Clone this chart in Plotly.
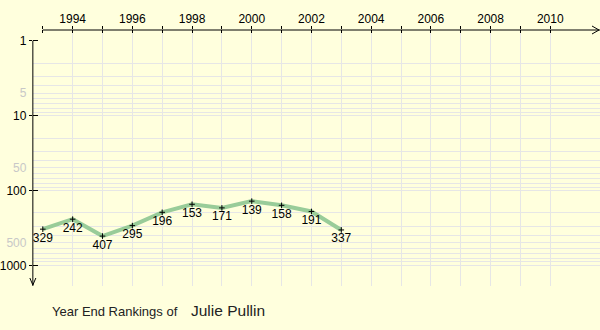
import plotly.graph_objects as go
import math

years = [1993, 1994, 1995, 1996, 1997, 1998, 1999, 2000, 2001, 2002, 2003]
rankings = [329, 242, 407, 295, 196, 153, 171, 139, 158, 191, 337]
tick_years = list(range(1993, 2011))
label_years = list(range(1994, 2011, 2))
grid_years = list(range(1994, 2011))
ymajor = [1, 10, 100, 1000]
ylabel_vals = [1, 5, 10, 50, 100, 500, 1000]
ygrid_vals = [m * d for d in (1, 10, 100) for m in range(2, 10)] + [10, 100, 1000]
title_text = "Year End Rankings of"
player = "Julie Pullin"

W, H = 600, 330
BG = "#FFFFDD"
GRID = "#E6E6E6"
FONT = "Liberation Sans, Arial, sans-serif"

xr = [1992.6667, 2011.6667]
ylog_top, ylog_bot = -0.1429, 3.2763
yr = [ylog_bot, ylog_top]
ybot_val = 10 ** ylog_bot
xdom = [30 / W, 1]
ydom = [1 - 286 / H, 1 - 30 / H]

fig = go.Figure()
fig.add_trace(go.Scatter(
    x=years, y=rankings, mode="lines+markers+text",
    line=dict(color="#99CC99", width=4),
    marker=dict(symbol="cross-thin", size=4, color="black",
                line=dict(color="black", width=1)),
    text=[str(v) for v in rankings], textposition="bottom center",
    textfont=dict(family=FONT, size=12, color="black"),
    hoverinfo="skip", showlegend=False,
))
# empty traces so the overlay axes get drawn
for xa, ya in [("x2", "y"), ("x3", "y"), ("x", "y2"), ("x", "y3"), ("x", "y4")]:
    fig.add_trace(go.Scatter(x=[], y=[], xaxis=xa, yaxis=ya, mode="markers",
                             hoverinfo="skip", showlegend=False))

ticktext_x = [str(y) if y in label_years else "" for y in tick_years]

def ylab(v):
    if v in ymajor:
        return str(v)
    return '<span style="color:#C8C8C8">%d</span>' % v

fig.update_layout(
    width=W, height=H, autosize=False,
    margin=dict(l=0, r=0, t=0, b=0),
    paper_bgcolor=BG, plot_bgcolor=BG,
    showlegend=False,
    xaxis=dict(domain=xdom, range=xr, anchor="y", side="top",
               tickmode="array", tickvals=grid_years, showticklabels=False,
               ticks="", showgrid=True, gridcolor=GRID, gridwidth=1,
               zeroline=False, showline=False),
    xaxis2=dict(overlaying="x", anchor="y", side="top", range=xr,
                tickmode="array", tickvals=tick_years, ticktext=ticktext_x,
                ticks="outside", ticklen=3, tickcolor="black", tickwidth=1,
                ticklabelstandoff=-2,
                tickfont=dict(family=FONT, size=12, color="black"),
                showgrid=False, zeroline=False, showline=False),
    xaxis3=dict(overlaying="x", anchor="y", side="top", range=xr,
                tickmode="array", tickvals=tick_years, showticklabels=False,
                ticks="inside", ticklen=3, tickcolor="black", tickwidth=1,
                showgrid=False, zeroline=False, showline=False),
    yaxis=dict(domain=ydom, type="log", range=yr, anchor="x",
               tickmode="array", tickvals=ygrid_vals, showticklabels=False,
               ticks="", showgrid=True, gridcolor=GRID, gridwidth=1,
               zeroline=False, showline=False),
    yaxis2=dict(overlaying="y", anchor="x", side="left", type="log", range=yr,
                tickmode="array", tickvals=ylabel_vals,
                ticktext=[ylab(v) for v in ylabel_vals],
                ticks="outside", ticklen=3, tickcolor="rgba(0,0,0,0)",
                tickfont=dict(family=FONT, size=12, color="black"),
                showgrid=False, zeroline=False, showline=False),
    yaxis3=dict(overlaying="y", anchor="x", side="left", type="log", range=yr,
                tickmode="array", tickvals=ymajor, showticklabels=False,
                ticks="outside", ticklen=3, tickcolor="black", tickwidth=1,
                showgrid=False, zeroline=False, showline=False),
    yaxis4=dict(overlaying="y", anchor="x", side="left", type="log", range=yr,
                tickmode="array", tickvals=ymajor, showticklabels=False,
                ticks="inside", ticklen=5, tickcolor="black", tickwidth=1,
                showgrid=False, zeroline=False, showline=False),
)

# axis lines with arrows
ytop_paper = ydom[1]
fig.add_shape(type="line", xref="x", yref="paper", x0=years[0], x1=xr[1],
              y0=ytop_paper, y1=ytop_paper, line=dict(color="black", width=1))
fig.add_shape(type="path", xref="x", yref="paper", xsizemode="pixel", ysizemode="pixel",
              xanchor=xr[1], yanchor=ytop_paper,
              path="M -8,4 L -1,0 L -8,-4", line=dict(color="black", width=1))
fig.add_shape(type="line", xref="paper", yref="y", x0=xdom[0], x1=xdom[0],
              y0=ymajor[0], y1=ybot_val, line=dict(color="black", width=1))
fig.add_shape(type="path", xref="paper", yref="y", xsizemode="pixel", ysizemode="pixel",
              xanchor=xdom[0], yanchor=ybot_val,
              path="M -3,8 L 0,1 L 3,8", line=dict(color="black", width=1))

fig.add_annotation(x=47 / W, y=1 - 311 / H, xref="paper", yref="paper",
                   xanchor="left", yanchor="middle", showarrow=False,
                   text=title_text, font=dict(family=FONT, size=13, color="#222222"))
fig.add_annotation(x=187 / W, y=1 - 310 / H, xref="paper", yref="paper",
                   xanchor="left", yanchor="middle", showarrow=False,
                   text=player, font=dict(family=FONT, size=15.5, color="#222222"))

fig.write_html("out.html")
